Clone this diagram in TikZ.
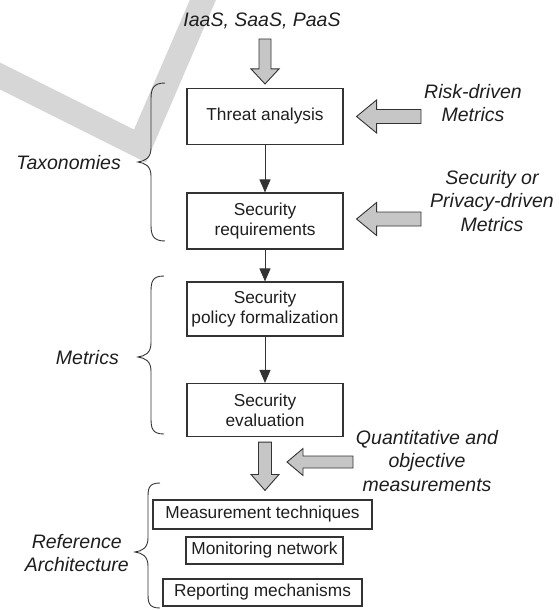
\documentclass[tikz,border=0pt]{standalone}
\usepackage{fontspec}
\setmainfont{Liberation Sans}
\usetikzlibrary{calc,arrows.meta}
\definecolor{txt}{HTML}{1E1E1E}
\definecolor{edge}{HTML}{333333}
\definecolor{gfill}{HTML}{C6C6C6}
\definecolor{wmark}{HTML}{D6D6D6}
\tikzset{
  box/.style={draw=edge,line width=1.1pt,inner sep=0pt,align=center,text=txt,
    font=\fontsize{17.3}{20}\selectfont},
  lab/.style={inner sep=0pt,align=center,text=txt,
    font=\fontsize{19.5}{23.5}\selectfont\itshape},
  flow/.style={draw=edge,line width=0.9pt,-{Triangle[length=13pt,width=11pt]}},
  garrow/.style={draw=edge,fill=gfill,line width=0.9pt,line join=miter},
  brc/.style={draw=edge,line width=0.9pt}
}
% down block arrow: #1 start, #2 tip, #3 shaft half width, #4 head half width, #5 head length
\newcommand\blockdown[5]{%
  \draw[garrow] ($(#1)+(-#3,0)$) -- ($(#1)+(#3,0)$) -- ($(#2)+(#3,-#5)$) -- ($(#2)+(#4,-#5)$)
    -- (#2) -- ($(#2)+(-#4,-#5)$) -- ($(#2)+(-#3,-#5)$) -- cycle;}
% left block arrow: #1 start (right), #2 tip (left)
\newcommand\blockleft[5]{%
  \draw[garrow] ($(#1)+(0,-#3)$) -- ($(#1)+(0,#3)$) -- ($(#2)+(#5,#3)$) -- ($(#2)+(#5,#4)$)
    -- (#2) -- ($(#2)+(#5,-#4)$) -- ($(#2)+(#5,-#3)$) -- cycle;}
% brace: #1 x of ends, #2 top y, #3 bottom y, #4 tip y, #5 tip x
\newcommand\curlybrc[5]{%
  \draw[brc] (#1,#2) .. controls (#1-12,#2) and (#5+13,#2+6) .. (#5+13,#2+16)
    -- (#5+13,#4-14) .. controls (#5+13,#4-4) and (#5+7,#4-1) .. (#5,#4)
    .. controls (#5+7,#4+1) and (#5+13,#4+4) .. (#5+13,#4+14)
    -- (#5+13,#3-16) .. controls (#5+13,#3-6) and (#1-12,#3) .. (#1,#3);}
\begin{document}
\begin{tikzpicture}[x=1pt,y=-1pt]
\useasboundingbox (0,0) rectangle (558,610);
% watermark stroke
\draw[wmark,line width=24pt,line join=miter] (-8,72) -- (140,146) -- (208,-12);

% boxes
\node[box,minimum width=156pt,minimum height=56pt] (threat) at (265,116.5) {Threat analysis};
\node[box,minimum width=156pt,minimum height=56pt] (req) at (265,221) {Security\\requirements};
\node[box,minimum width=156pt,minimum height=54pt] (pol) at (265,309) {Security\\policy formalization};
\node[box,minimum width=156pt,minimum height=53pt] (eval) at (265,410) {Security\\evaluation};
\node[box,minimum width=219pt,minimum height=29pt] (meas) at (262.5,514.5) {Measurement techniques};
\node[box,minimum width=157pt,minimum height=27pt] (mon) at (264.5,550.5) {Monitoring network};
\node[box,minimum width=199pt,minimum height=27pt] (rep) at (262.5,592.5) {Reporting mechanisms};

% flow arrows
\draw[flow] (threat) -- (req);
\draw[flow] (req) -- (pol);
\draw[flow] (pol) -- (eval);

% labels
\node[lab] (iaas) at (262,21) {IaaS, SaaS, PaaS};
\node[lab] (risk) at (473,103) {Risk-driven\\Metrics};
\node[lab] (priv) at (492,201) {Security or\\Privacy-driven\\Metrics};
\node[lab] (quant) at (427,461) {Quantitative and\\objective\\measurements};
\node[lab,anchor=east] (tax) at (121,163) {Taxonomies};
\node[lab,anchor=east] (met) at (119,358) {Metrics};
\node[lab,anchor=east] (ra) at (129,553) {Reference\\Architecture};

% block arrows
\coordinate (a1s) at (265,39);
\coordinate (a1t) at ($(threat.north)+(0,-4)$);
\blockdown{a1s}{a1t}{6}{14}{15}
\coordinate (a2s) at ($(eval.south)+(0,5)$);
\coordinate (a2t) at ($(meas.north)+(2.5,-9)$);
\blockdown{a2s}{a2t}{6.5}{14}{16}
\coordinate (a3s) at (421,116.5);
\coordinate (a3t) at ($(threat.east)+(13,0)$);
\blockleft{a3s}{a3t}{7}{16.5}{20}
\coordinate (a4s) at (421,219);
\coordinate (a4t) at ($(req.east)+(13,-2)$);
\blockleft{a4s}{a4t}{7}{16.5}{20}
\coordinate (a5s) at (353,462);
\coordinate (a5t) at (287,462);
\blockleft{a5s}{a5t}{6}{13.5}{16}

% braces
\curlybrc{165}{83}{241}{162}{138}
\curlybrc{164}{276}{434}{357}{138}
\curlybrc{160}{483}{608}{552}{135}
\end{tikzpicture}
\end{document}
